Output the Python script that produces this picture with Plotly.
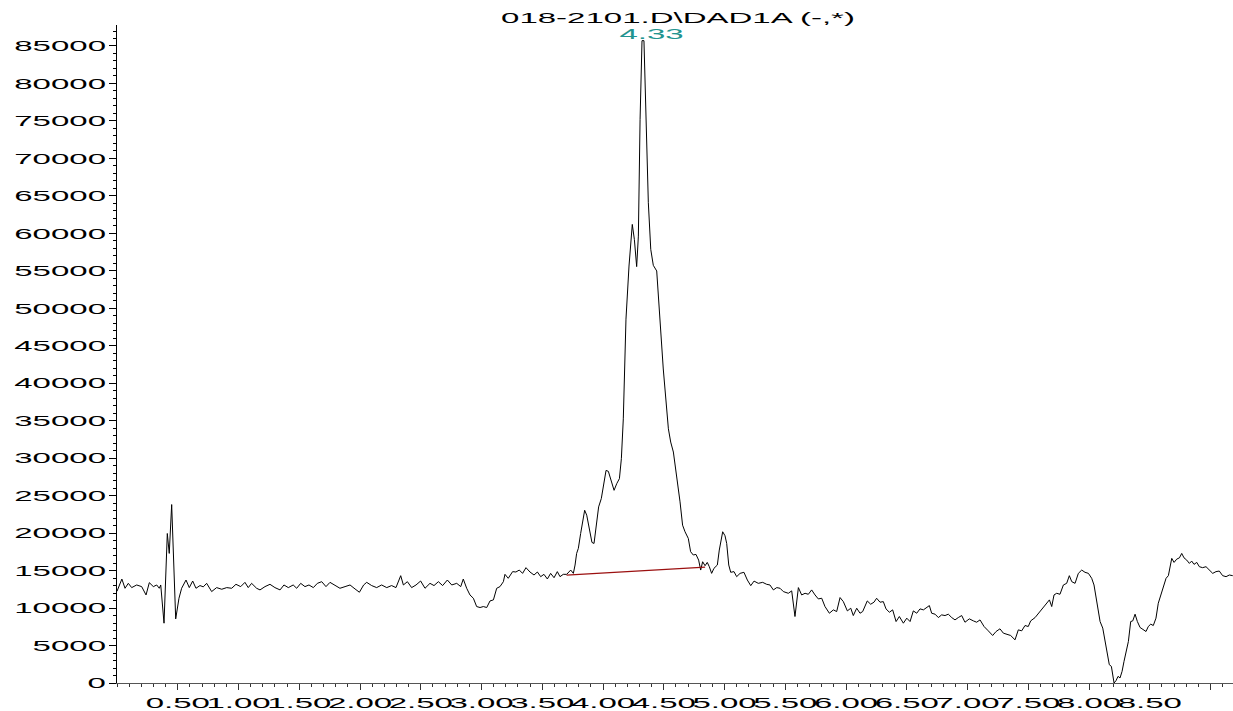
import plotly.graph_objects as go

# ---- data ----
times = [
    0.0, 0.04, 0.066, 0.093, 0.121, 0.162, 0.203, 0.239, 0.266, 0.299, 0.327, 0.348, 0.36, 0.387, 0.414, 0.43, 0.45,
    0.483, 0.51, 0.532, 0.568, 0.595, 0.623, 0.65, 0.683, 0.71, 0.738, 0.779, 0.82, 0.862, 0.903, 0.944, 0.979,
    1.018, 1.053, 1.08, 1.108, 1.149, 1.177, 1.218, 1.259, 1.3, 1.342, 1.374, 1.41, 1.45, 1.479, 1.512, 1.547,
    1.58, 1.616, 1.649, 1.685, 1.72, 1.753, 1.794, 1.835, 1.877, 1.918, 1.959, 1.995, 2.03, 2.055, 2.096, 2.137,
    2.178, 2.22, 2.26, 2.296, 2.335, 2.357, 2.39, 2.425, 2.461, 2.499, 2.535, 2.576, 2.609, 2.645, 2.68, 2.719,
    2.755, 2.796, 2.829, 2.85,
    2.878, 2.905, 2.933, 2.96, 2.988, 3.015, 3.043, 3.07, 3.098, 3.125, 3.152, 3.18, 3.193, 3.22, 3.256, 3.283,
    3.311, 3.338, 3.366, 3.399, 3.432, 3.46, 3.487, 3.514, 3.542, 3.569, 3.597, 3.624, 3.646, 3.673, 3.701, 3.734,
    3.756, 3.77, 3.783, 3.797, 3.816, 3.832, 3.849, 3.866, 3.888, 3.909, 3.926, 3.942, 3.964, 3.986, 4.008, 4.025,
    4.044, 4.063, 4.091, 4.113, 4.135, 4.151, 4.167,
    4.189, 4.214, 4.241, 4.258, 4.277, 4.291, 4.305, 4.321, 4.337, 4.354, 4.373, 4.393, 4.414, 4.442, 4.469, 4.496,
    4.538, 4.557, 4.579, 4.606, 4.634, 4.655, 4.675, 4.702, 4.721, 4.743, 4.765, 4.787, 4.804, 4.82, 4.84, 4.858,
    4.875, 4.894, 4.913, 4.941, 4.957, 4.985, 5.004, 5.018, 5.035, 5.051, 5.078, 5.1, 5.128, 5.16, 5.188, 5.216,
    5.243, 5.278, 5.314, 5.347,
    5.374, 5.402, 5.43, 5.457, 5.484, 5.525, 5.553, 5.58, 5.608, 5.635, 5.663, 5.69, 5.717, 5.745, 5.772, 5.8,
    5.827, 5.863, 5.896, 5.923, 5.951, 5.978, 6.011, 6.039, 6.06, 6.088, 6.115, 6.137, 6.175, 6.203, 6.23, 6.252,
    6.28, 6.307, 6.329, 6.357, 6.384, 6.412, 6.439, 6.472, 6.5, 6.527, 6.554, 6.582, 6.609, 6.637, 6.664, 6.686,
    6.705, 6.733, 6.76, 6.787, 6.815, 6.842, 6.87, 6.897, 6.924, 6.952, 6.979, 7.015, 7.048, 7.075, 7.103, 7.136,
    7.171, 7.207, 7.235, 7.267, 7.295, 7.328, 7.355, 7.391, 7.418, 7.446, 7.473, 7.5, 7.52, 7.556, 7.591, 7.624,
    7.646, 7.674, 7.693, 7.712, 7.734, 7.761, 7.789, 7.816,
    7.838, 7.858, 7.885, 7.912, 7.94, 7.967, 7.995, 8.022, 8.041, 8.058, 8.077, 8.091, 8.113, 8.132, 8.151, 8.167,
    8.184, 8.195, 8.206, 8.222, 8.239, 8.255, 8.272, 8.288, 8.305, 8.324, 8.343, 8.36, 8.379, 8.398, 8.42, 8.447,
    8.469, 8.488, 8.508, 8.529, 8.551, 8.57, 8.59, 8.612, 8.634, 8.653, 8.667, 8.681, 8.7, 8.722, 8.744, 8.763,
    8.782, 8.804, 8.826, 8.845, 8.864, 8.887, 8.908, 8.935, 8.963, 8.99, 9.018, 9.045, 9.072, 9.1, 9.128, 9.155,
    9.183,
]
signal = [
    12240, 13870, 12640, 13300, 12730, 13080, 12860, 11750, 13390, 12860, 13080, 12640, 13080, 7980, 19950, 17290, 23810,
    8550, 11310, 12640, 13740, 12730, 13610, 12640, 13000, 12830, 13300, 12200, 12730, 12510, 12730, 12640, 13170,
    12860, 13430, 12730, 13300, 12640, 12420, 12860, 13170, 12730, 12420, 13080, 12730, 13080, 12640, 13300, 12860,
    13080, 12730, 13300, 13520, 12860, 13430, 13080, 12640, 12860, 13080, 12550, 12110, 13080, 13430, 13000, 12730,
    13080, 12730, 13000, 12730, 14320, 13080, 13520, 12730, 13080, 13610, 12640, 13300, 13000, 13520, 13000, 13740,
    13080, 13300, 12860, 13870,
    12640, 11750, 11310, 10200, 10070, 10200, 10070, 10950, 11090, 12640, 12860, 13520, 14500, 13970, 14860, 14810,
    15070, 14630, 15390, 14810, 14410, 14810, 14190, 14500, 13880, 14630, 14050, 14860, 14190, 14500, 14500, 15070,
    14630, 15740, 17290, 17960, 19950, 21510, 23050, 22390, 20400, 18760, 18620, 21060, 23500, 24610, 26600, 28370,
    28240, 27270, 25710, 26600, 27270, 29930, 35250,
    48550, 55640, 61190, 59190, 55560, 59630, 75160, 85710, 85710, 75160, 64080, 57860, 55730, 54980, 48550, 41900,
    33920, 32150, 30820, 27710, 24170, 21060, 20180, 19290, 17520, 17080, 17160, 16400, 15070, 16180, 15650, 16090,
    15520, 14630, 15300, 15740, 17740, 20180, 19650, 18620, 15740, 14770, 14860, 14190, 14630, 14770, 13740, 12990,
    13600, 13300, 13430, 13170,
    13080, 12420, 12730, 12640, 12200, 11970, 12290, 8870, 12730, 11750, 11970, 11840, 12420, 11750, 11220, 11310,
    10200, 9310, 9760, 9530, 11400, 10860, 9620, 9980, 9000, 9980, 9310, 9530, 10950, 10510, 10780, 11310,
    10780, 10860, 9890, 9440, 9760, 8200, 8870, 7980, 8650, 8200, 9620, 9310, 9890, 9760, 10070, 10330,
    9310, 9180, 8730, 9090, 9000, 9180, 8730, 8420, 8730, 9000, 8110, 8560, 8290, 8110, 8420, 7540,
    6960, 6340, 6870, 7230, 6650, 6430, 6340, 5760, 7090, 6960, 7670, 7540, 8290, 8730, 9440, 10070,
    10510, 11090, 10200, 11750, 11970, 11840, 13080, 13300,
    14320, 13520, 13300, 14630, 15070, 14770, 14630, 13970, 13080, 11310, 9980, 8200, 7320, 5540, 4210, 2440,
    2220, 890, 0, 310, 890, 670, 1550, 2880, 4210, 5540, 8200, 8290, 9180, 8200, 7410, 7090,
    6870, 7540, 7850, 7670, 8650, 10640, 11750, 12730, 13970, 14320, 15740, 16630, 16090, 16530, 16700, 17290,
    16700, 16400, 15960, 16270, 15830, 16090, 15520, 15390, 15520, 15070, 14630, 14860, 14940, 14320, 14190, 14410,
    14320,
]

baseline_times = [3.70, 4.84]
baseline_values = [14400, 15450]

peak_time = 4.33
peak_label = "4.33"
title_text = "018-2101.D\\DAD1A (-,*)"

x_tickvals = [0.5, 1.0, 1.5, 2.0, 2.5, 3.0, 3.5, 4.0, 4.5, 5.0, 5.5, 6.0, 6.5, 7.0, 7.5, 8.0, 8.5, 9.0]
x_ticktext = ["0.50", "1.00", "1.50", "2.00", "2.50", "3.00", "3.50", "4.00", "4.50", "5.00",
              "5.50", "6.00", "6.50", "7.00", "7.50", "8.00", "8.50", ""]
y_tickvals = [0, 5000, 10000, 15000, 20000, 25000, 30000, 35000, 40000, 45000,
              50000, 55000, 60000, 65000, 70000, 75000, 80000, 85000]
y_ticktext = [str(v) for v in y_tickvals]

FONT = "Liberation Sans, Arial, sans-serif"

fig = go.Figure()
fig.add_trace(go.Scatter(x=times, y=signal, mode="lines",
                         line=dict(color="black", width=1), hoverinfo="skip"))
fig.add_trace(go.Scatter(x=baseline_times, y=baseline_values, mode="lines",
                         line=dict(color="#9b1010", width=1.2), hoverinfo="skip"))

fig.add_annotation(x=peak_time, y=86900, xref="x", yref="y", text=peak_label,
                   showarrow=False, xshift=8, yshift=-1.5, yanchor="middle",
                   font=dict(family=FONT, size=15, color="#229490"))

fig.update_layout(
    width=1233, height=711,
    margin=dict(l=117, r=0, t=25, b=26, pad=0),
    paper_bgcolor="white", plot_bgcolor="white",
    showlegend=False,
    title=dict(text=title_text, x=0.5027, xref="paper", xanchor="center",
               y=1 - 17.5 / 711, yref="container", yanchor="middle",
               font=dict(family=FONT, size=15, color="black")),
    font=dict(family=FONT, size=15, color="black"),
)
fig.update_xaxes(range=[0, 9.185], showline=True, linecolor="#555555", linewidth=1,
                 ticks="outside", ticklen=6, tickcolor="#333333", tickwidth=1,
                 tickvals=x_tickvals, ticktext=x_ticktext,
                 minor=dict(tick0=0, dtick=0.1, ticks="outside", ticklen=3, tickcolor="#333333"),
                 showgrid=False, zeroline=False,
                 tickfont=dict(family=FONT, size=15, color="black"))
fig.update_yaxes(range=[0, 87800], showline=True, linecolor="black", linewidth=1,
                 ticks="outside", ticklen=7, tickcolor="black", tickwidth=1,
                 tickvals=y_tickvals, ticktext=y_ticktext,
                 minor=dict(tick0=0, dtick=1000, ticks="outside", ticklen=3, tickcolor="black"),
                 showgrid=False, zeroline=False,
                 tickfont=dict(family=FONT, size=15, color="black"))

post = """
document.body.style.margin='0';
document.body.style.overflow='hidden';
var gd=document.getElementById('{plot_id}');
var els=gd.querySelectorAll('.xtick text, .ytick text, .gtitle, .annotation-text');
els.forEach(function(t){
  var b=t.getBBox();
  var a=t.getAttribute('text-anchor')||'start';
  var ax=(a==='end')?(b.x+b.width):((a==='middle')?(b.x+b.width/2):b.x);
  var tr=t.getAttribute('transform')||'';
  t.setAttribute('transform', tr+' translate('+ax+',0) scale(2.2,1) translate('+(-ax)+',0)');
});
"""

fig.write_html("out.html", post_script=post, config={"displayModeBar": False})
